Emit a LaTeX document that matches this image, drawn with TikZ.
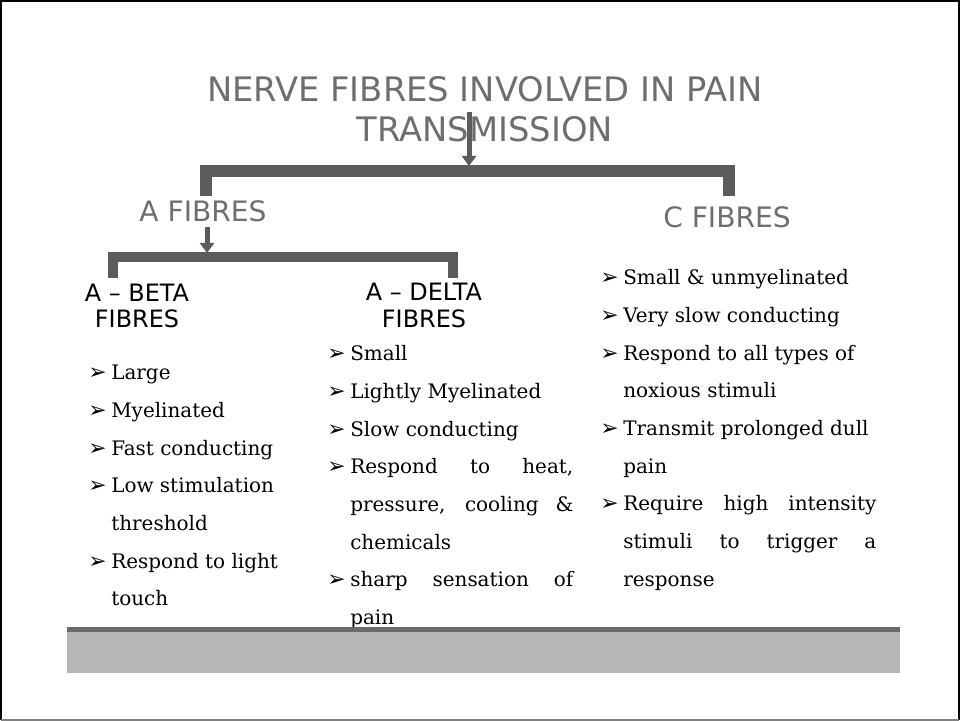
\documentclass[tikz,border=0pt]{standalone}
\usepackage{fontspec}
\setmainfont{DejaVu Serif}
\newfontfamily\headfont{DejaVu Sans}
\usetikzlibrary{arrows.meta}

\definecolor{titlegray}{HTML}{6E6E6E}
\definecolor{bargray}{HTML}{5C5C5C}
\definecolor{bandgray}{HTML}{B6B6B6}
\definecolor{banddark}{HTML}{6A6A6A}

\newcommand\bulmark{{\headfont\fontsize{15.5}{15.5}\selectfont ➢}}
\newenvironment{fibrelist}{\begin{list}{\bulmark}{\setlength\leftmargin{0.575cm}%
  \setlength\labelwidth{0.575cm}\setlength\labelsep{0pt}\setlength\itemsep{0pt}%
  \setlength\parsep{0pt}\setlength\topsep{0pt}\def\makelabel##1{##1\hfil}}}{\end{list}}

\tikzset{
  title/.style={font=\headfont\fontsize{24}{28}\selectfont, text=titlegray, inner sep=0pt, anchor=base},
  group/.style={font=\headfont\fontsize{20}{24}\selectfont, text=titlegray, inner sep=0pt, anchor=base},
  kind/.style={font=\headfont\fontsize{17}{20}\selectfont, text=black, inner sep=0pt, anchor=base},
  facts/.style={font=\fontsize{14.2}{26.8}\selectfont, inner sep=0pt, anchor=base west, align=justify},
  bracket/.style={draw=bargray, line width=0.28cm},
  feed/.style={draw=bargray, line width=0.125cm, -{Triangle[width=0.35cm,length=0.25cm]}}
}

\begin{document}
\begin{tikzpicture}[x=0.025cm, y=-0.025cm]
  \useasboundingbox (0,0) rectangle (960,721);
  % frame
  \draw[black, line width=0.04cm] (1,720) |- (959,1) -- (959,720);
  \draw[gray, line width=0.04cm] (1,720) -- (959,720);

  % title
  \node[title] (title1) at (485,102) {NERVE FIBRES INVOLVED IN PAIN};
  \node[title] (title2) at (485,142) {TRANSMISSION};

  % first split
  \coordinate (top1) at (469,112);
  \coordinate (bar1) at (469,166);
  \coordinate (legA) at (206,196);
  \coordinate (legC) at (729,196);
  \draw[bracket] (legA) |- (469,171) -| (legC);
  \draw[feed] (top1) -- (bar1);

  \node[group] (afib) at (203,222) {A FIBRES};
  \node[group] (cfib) at (727,228) {C FIBRES};

  % second split
  \coordinate (top2) at (207,227);
  \coordinate (bar2) at (207,253);
  \coordinate (legB) at (113,278);
  \coordinate (legD) at (453,278);
  \draw[bracket, line width=0.25cm] (legB) |- (207,257) -| (legD);
  \draw[feed] (top2) -- (bar2);

  \node[kind] (beta1) at (137,302) {A – BETA};
  \node[kind] (beta2) at (137,328) {FIBRES};
  \node[kind] (delta1) at (424,301) {A – DELTA};
  \node[kind] (delta2) at (424,328) {FIBRES};

  % fact lists
  \node[facts, text width=4.75cm] (betalist) at (88,342) {%
    \begin{fibrelist}
      \item Large
      \item Myelinated
      \item Fast conducting
      \item Low stimulation\newline threshold
      \item Respond to light\newline touch
    \end{fibrelist}};
  \node[facts, text width=6.15cm] (deltalist) at (327,323) {%
    \begin{fibrelist}
      \item Small
      \item Lightly Myelinated
      \item Slow conducting
      \item Respond to heat,\linebreak pressure, cooling \&\linebreak chemicals
      \item sharp sensation of\linebreak pain
    \end{fibrelist}};
  \node[facts, text width=6.9cm] (clist) at (600,247) {%
    \begin{fibrelist}
      \item Small \& unmyelinated
      \item Very slow conducting
      \item Respond to all types of\newline noxious stimuli
      \item Transmit prolonged dull\newline pain
      \item Require high intensity\linebreak stimuli to trigger a\linebreak response
    \end{fibrelist}};

  % bottom band
  \fill[bandgray] (67,632) rectangle (900,673);
  \fill[banddark] (67,627) rectangle (900,632);
\end{tikzpicture}
\end{document}
